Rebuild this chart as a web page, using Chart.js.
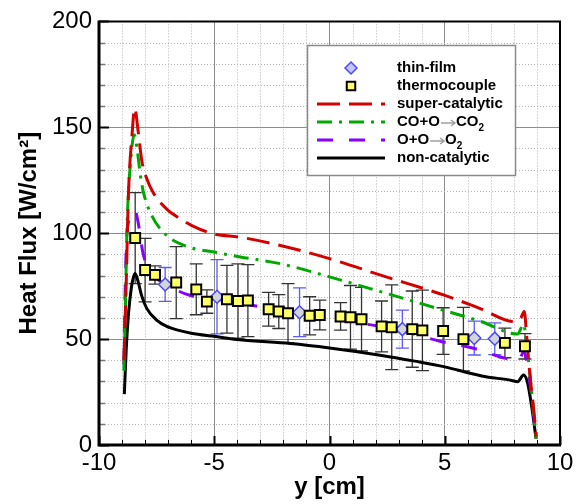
<!DOCTYPE html>
<html>
<head>
<meta charset="utf-8">
<script src="https://cdn.jsdelivr.net/npm/chart.js@4.4.0/dist/chart.umd.min.js"></script>
<style>
  html, body { margin:0; padding:0; background:#fff; }
</style>
</head>
<body>
<canvas id="heat_chart" width="581" height="504"></canvas>
<script>
// thermocouple measurements (y in cm, heat flux in W/cm2, +- error)
let tcX = [-8.43, -8.0, -7.57, -6.65, -5.78, -5.32, -4.45, -3.97, -3.54, -2.64, -2.2, -1.8, -0.86, -0.42, 0.48, 0.91, 1.39, 2.26, 2.70, 3.59, 4.03, 4.93, 5.81, 7.61, 8.48];
let tcY = [97.7, 82.6, 80.3, 76.7, 73.5, 67.7, 68.8, 68.0, 68.2, 64.1, 63.0, 62.2, 61.0, 61.4, 60.7, 60.3, 59.4, 56.0, 55.6, 54.7, 54.1, 53.8, 50.0, 48.2, 46.6];
let tcErr = [21.5, 15, 4.3, 17, 12, 5.5, 16, 17.5, 17, 8, 8, 14, 9, 7, 6.5, 15, 15, 12, 20, 18, 19, 11, 15, 7, 6];

// thin-film gauges
let tfX = [-7.13, -4.88, -1.3, 3.16, 6.28, 7.17];
let tfY = [75.8, 70.0, 62.7, 54.7, 50.5, 50.2];
let tfErr = [8, 17.5, 11.5, 9, 8, 7.5];

// super-catalytic
let scX = [-8.92, -8.83, -8.72, -8.57, -8.45, -8.3, -8.14, -7.9, -7.64, -7.06, -6.5, -5.97, -5.03, -3.87, -2.13, 0.0, 2.22, 5.04, 6.57, 8.0, 8.3, 8.45, 8.55, 8.67, 8.88, 8.97];
let scY = [40, 72, 119, 146, 159, 148, 134, 125, 119, 111.4, 107, 103.6, 99.7, 98.1, 94.2, 88, 80.2, 70.5, 64.3, 58.3, 60, 63, 52, 36, 14.6, 4];

// CO+O -> CO2
let coX = [-8.92, -8.86, -8.78, -8.62, -8.47, -8.35, -8.2, -8.07, -7.71, -7.06, -6.1, -5.0, -3.87, -2.13, 0.0, 2.22, 5.04, 6.57, 8.16, 8.42, 8.55, 8.7, 8.85, 8.97];
let coY = [35, 62, 104, 135, 146.5, 140, 127, 119.2, 108.3, 98.9, 93.4, 91.1, 88.8, 85.6, 79.4, 72.4, 63.3, 58.3, 52.4, 57, 48, 33, 16, 3];

// O+O -> O2
let ooX = [-8.92, -8.87, -8.8, -8.65, -8.45, -8.3, -8.1, -7.8, -7.5, -7.06, -6.1, -5.03, -3.87, -2.0, -0.6, 1.35, 2.94, 4.83, 6.2, 7.58, 8.2, 8.45, 8.58, 8.72, 8.86, 8.97];
let ooY = [38, 70, 98, 107, 111, 105, 91, 82, 78.6, 75.5, 70.8, 69, 66.9, 63.3, 60.7, 57.5, 54.4, 48.9, 45.8, 41.1, 40, 44.3, 38, 27, 14, 3];

// non-catalytic
let ncX = [-8.9, -8.82, -8.72, -8.6, -8.5, -8.43, -8.3, -8.15, -7.93, -7.5, -7.06, -6.5, -6.0, -5.0, -3.9, -1.7, 0.0, 2.2, 3.7, 5.0, 6.6, 7.9, 8.16, 8.42, 8.6, 8.8, 8.96];
let ncY = [24, 45, 62, 74, 79.5, 81, 77, 70.5, 64.5, 59, 56, 54, 52.8, 51.3, 49.7, 47.9, 45.8, 42.4, 39.6, 36.9, 32.6, 30.5, 29.9, 33, 29, 16, 3];

const minorStepX = 1;
const minorStepY = 10;
const FONT = "Liberation Sans, Arial, Helvetica, sans-serif";

function pts(xs, ys) {
    let out = [];
    for (let i = 0; i < xs.length; i++) out.push({x: xs[i], y: ys[i]});
    return out;
}

// dotted minor grid
const minorGrid = {
    id: "minorGrid",
    beforeDatasetsDraw(chart) {
        const {ctx, chartArea: a, scales: {x, y}} = chart;
        const majX = x.ticks.map(t => t.value);
        const majY = y.ticks.map(t => t.value);
        ctx.save();
        ctx.strokeStyle = "#b4b4b4";
        ctx.lineWidth = 1;
        ctx.setLineDash([1, 2]);
        for (let v = x.min; v <= x.max; v += minorStepX) {
            if (majX.includes(v)) continue;
            let px = Math.round(x.getPixelForValue(v)) + 0.5;
            ctx.beginPath(); ctx.moveTo(px, a.top); ctx.lineTo(px, a.bottom); ctx.stroke();
        }
        for (let v = y.min; v <= y.max; v += minorStepY) {
            if (majY.includes(v)) continue;
            let py = Math.round(y.getPixelForValue(v)) + 0.5;
            ctx.beginPath(); ctx.moveTo(a.left, py); ctx.lineTo(a.right, py); ctx.stroke();
        }
        ctx.restore();
    }
};

// error bars from dataset.errors
const errorBars = {
    id: "errorBars",
    beforeDatasetsDraw(chart) {
        const {ctx, scales: {x, y}} = chart;
        ctx.save();
        chart.data.datasets.forEach(ds => {
            if (!ds.errors) return;
            ctx.strokeStyle = ds.errorColor;
            ctx.lineWidth = 1.3;
            ds.data.forEach((p, i) => {
                let px = x.getPixelForValue(p.x);
                let top = y.getPixelForValue(p.y + ds.errors[i]);
                let bot = y.getPixelForValue(p.y - ds.errors[i]);
                ctx.beginPath();
                ctx.moveTo(px, top); ctx.lineTo(px, bot);
                ctx.moveTo(px - 6.5, top); ctx.lineTo(px + 6.5, top);
                ctx.moveTo(px - 6.5, bot); ctx.lineTo(px + 6.5, bot);
                ctx.stroke();
            });
        });
        ctx.restore();
    }
};

// legend text: gray arrow and subscript 2
function drawRich(ctx, text, x, y) {
    for (const ch of text) {
        if (ch === "→") {
            ctx.strokeStyle = "#a0a0a0";
            ctx.lineWidth = 1.5;
            ctx.beginPath();
            ctx.moveTo(x + 1, y + 1); ctx.lineTo(x + 15, y + 1);
            ctx.moveTo(x + 11, y - 2); ctx.lineTo(x + 15, y + 1); ctx.lineTo(x + 11, y + 4);
            ctx.stroke();
            x += 16;
        } else if (ch === "₂") {
            ctx.font = "bold 10px " + FONT;
            ctx.fillStyle = "#000";
            ctx.fillText("2", x, y + 6);
            x += ctx.measureText("2").width;
        } else {
            ctx.font = "bold 15px " + FONT;
            ctx.fillStyle = "#000";
            ctx.fillText(ch, x, y);
            x += ctx.measureText(ch).width;
        }
    }
}

// legend box inside the plot
const legendBox = {
    id: "legendBox",
    afterDatasetsDraw(chart) {
        const ctx = chart.ctx;
        const bx = 307, by = 45, bw = 208, bh = 130;
        ctx.save();
        ctx.fillStyle = "#fff";
        ctx.fillRect(bx, by, bw, bh);
        ctx.strokeStyle = "#8a8a8a";
        ctx.lineWidth = 1.5;
        ctx.strokeRect(bx + 0.5, by + 0.5, bw, bh);
        ctx.textBaseline = "middle";
        ctx.textAlign = "left";
        chart.data.datasets.forEach((ds, i) => {
            let ry = 68 + i * 18;
            if (ds.showLine) {
                ctx.strokeStyle = ds.borderColor;
                ctx.lineWidth = ds.borderWidth;
                ctx.setLineDash(ds.borderDash || []);
                ctx.beginPath(); ctx.moveTo(317, ry); ctx.lineTo(385, ry); ctx.stroke();
                ctx.setLineDash([]);
            } else {
                ctx.fillStyle = ds.legendFill || ds.backgroundColor;
                ctx.strokeStyle = ds.borderColor;
                ctx.lineWidth = ds.borderWidth;
                Chart.helpers.drawPoint(ctx, {pointStyle: ds.pointStyle, radius: ds.legendRadius, rotation: 0, borderWidth: ds.borderWidth}, 351, ry);
            }
            drawRich(ctx, ds.label, 397, ry);
        });
        ctx.restore();
    }
};

// frame and inward ticks
const frame = {
    id: "frame",
    afterDraw(chart) {
        const {ctx, chartArea: a, scales: {x, y}} = chart;
        ctx.save();
        const majX = x.ticks.map(t => t.value);
        const majY = y.ticks.map(t => t.value);
        for (let v = x.min; v <= x.max; v += minorStepX) {
            let px = Math.round(x.getPixelForValue(v)) + 0.5;
            let big = majX.includes(v);
            ctx.strokeStyle = "#000";
            ctx.lineWidth = big ? 2 : 1;
            ctx.beginPath(); ctx.moveTo(px, a.bottom); ctx.lineTo(px, a.bottom - (big ? 9 : 5)); ctx.stroke();
        }
        for (let v = y.min; v <= y.max; v += minorStepY) {
            let py = Math.round(y.getPixelForValue(v)) + 0.5;
            let big = majY.includes(v);
            ctx.strokeStyle = big ? "#000" : "#777";
            ctx.lineWidth = big ? 2 : 1.5;
            ctx.beginPath(); ctx.moveTo(a.left, py); ctx.lineTo(a.left + (big ? 10 : 6), py); ctx.stroke();
        }
        ctx.strokeStyle = "#000";
        ctx.lineWidth = 2;
        ctx.beginPath();
        ctx.moveTo(a.left, a.top); ctx.lineTo(a.right, a.top); ctx.lineTo(a.right, a.bottom);
        ctx.stroke();
        ctx.lineWidth = 3;
        ctx.beginPath();
        ctx.moveTo(a.left, a.top - 1); ctx.lineTo(a.left, a.bottom); ctx.lineTo(a.right + 1, a.bottom);
        ctx.stroke();
        ctx.restore();
    }
};

let heatChart = new Chart(document.getElementById("heat_chart"), {
    type: "scatter",
    data: {
        datasets: [
            {
                label: "thin-film",
                data: pts(tfX, tfY),
                errors: tfErr,
                errorColor: "#5a5aff",
                showLine: false,
                pointStyle: "rectRot",
                pointRadius: 6.5,
                legendRadius: 6,
                backgroundColor: "#d4d4dc",
                legendFill: "#c4c4ff",
                borderColor: "#4a4aff",
                borderWidth: 1.5,
                order: 1
            },
            {
                label: "thermocouple",
                data: pts(tcX, tcY),
                errors: tcErr,
                errorColor: "#333333",
                showLine: false,
                pointStyle: "rect",
                pointRadius: 7,
                legendRadius: 6,
                backgroundColor: "#ffff66",
                borderColor: "#000",
                borderWidth: 2,
                order: 0
            },
            {
                label: "super-catalytic",
                data: pts(scX, scY),
                showLine: true,
                borderColor: "#d40000",
                borderWidth: 3,
                borderDash: [23, 9],
                pointRadius: 0,
                cubicInterpolationMode: "monotone",
                order: 2
            },
            {
                label: "CO+O→CO₂",
                data: pts(coX, coY),
                showLine: true,
                borderColor: "#00a800",
                borderWidth: 3,
                borderDash: [15, 7, 3, 7],
                pointRadius: 0,
                cubicInterpolationMode: "monotone",
                order: 3
            },
            {
                label: "O+O→O₂",
                data: pts(ooX, ooY),
                showLine: true,
                borderColor: "#8a00ff",
                borderWidth: 3,
                borderDash: [16, 16],
                pointRadius: 0,
                cubicInterpolationMode: "monotone",
                order: 4
            },
            {
                label: "non-catalytic",
                data: pts(ncX, ncY),
                showLine: true,
                borderColor: "#000",
                borderWidth: 3,
                pointRadius: 0,
                cubicInterpolationMode: "monotone",
                order: 5
            }
        ]
    },
    options: {
        responsive: false,
        animation: false,
        layout: { padding: { top: 19, right: 21, left: 0, bottom: 0 } },
        plugins: { legend: { display: false }, tooltip: { enabled: false } },
        scales: {
            x: {
                type: "linear",
                min: -10,
                max: 10,
                afterFit: function(s) { s.height = 59; },
                ticks: { stepSize: 5, autoSkip: false, maxRotation: 0, padding: 4, color: "#000", font: { family: FONT, size: 24 } },
                grid: { color: "#8c8c8c", lineWidth: 1, drawTicks: false },
                border: { display: false },
                title: { display: true, text: "y [cm]", color: "#000", font: { family: FONT, size: 24, weight: "bold", lineHeight: 1 }, padding: { top: 0, bottom: 5 } }
            },
            y: {
                type: "linear",
                min: 0,
                max: 200,
                afterFit: function(s) { s.width = 99; },
                ticks: { stepSize: 50, padding: 7, color: "#000", font: { family: FONT, size: 24 } },
                grid: { color: "#8c8c8c", lineWidth: 1, drawTicks: false },
                border: { display: false },
                title: { display: true, text: "Heat Flux [W/cm²]", color: "#000", font: { family: FONT, size: 24, weight: "bold", lineHeight: 1 }, padding: { top: 17, bottom: 0 } }
            }
        }
    },
    plugins: [minorGrid, errorBars, legendBox, frame]
});
</script>
</body>
</html>
